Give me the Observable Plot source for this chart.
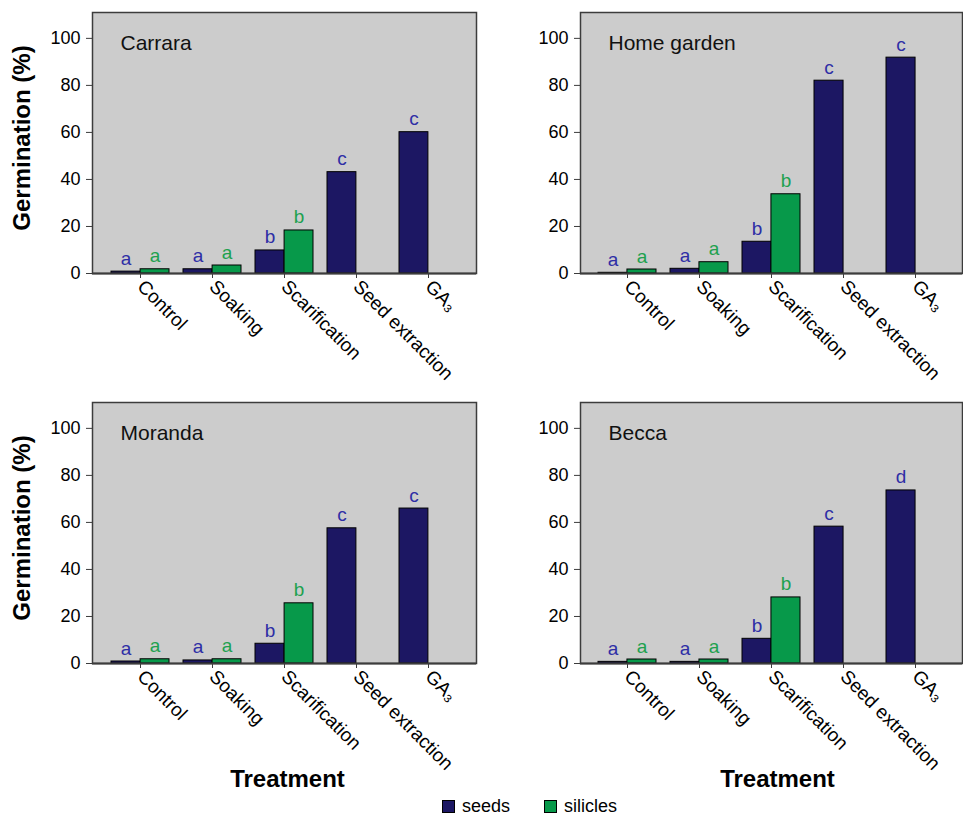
<!DOCTYPE html>
<html><head><meta charset="utf-8">
<script src="https://cdn.jsdelivr.net/npm/d3@7"></script>
<script src="https://cdn.jsdelivr.net/npm/@observablehq/plot@0.6"></script>
<style>
body{margin:0;background:#fff;font-family:"Liberation Sans",Arial,sans-serif;}
#wrap{position:relative;width:963px;height:815px;}
.panel{position:absolute;}
#legend{position:absolute;top:798px;left:442px;display:flex;align-items:center;font-size:18px;color:#000;line-height:16px;height:16px;}
#legend .sw{width:11px;height:11px;border:1px solid #000;display:inline-block;margin-right:7px;}
#legend .item{display:flex;align-items:center;margin-right:34px;}
</style></head><body><div id="wrap"><div id="legend"></div></div>
<script>
const treatments = ["Control", "Soaking", "Scarification", "Seed extraction", "GA₃"];
const seriesNames = ["seeds", "silicles"];
const seriesColors = ["#1c1763", "#07994a"];
const letterColors = ["#2e2ea6", "#1ea14f"];
const yTicks = [0, 20, 40, 60, 80, 100];

const panelNames = ["Carrara", "Home garden", "Moranda", "Becca"];

const carraraSeeds = [0.8, 1.8, 9.8, 43.1, 60.1];
const carraraSilicles = [1.8, 3.4, 18.3, null, null];
const carraraSeedLetters = ["a", "a", "b", "c", "c"];
const carraraSilicleLetters = ["a", "a", "b", null, null];

const homeSeeds = [0.3, 2.0, 13.5, 82.0, 91.8];
const homeSilicles = [1.7, 4.8, 33.7, null, null];
const homeSeedLetters = ["a", "a", "b", "c", "c"];
const homeSilicleLetters = ["a", "a", "b", null, null];

const morandaSeeds = [0.85, 1.3, 8.4, 57.5, 65.9];
const morandaSilicles = [1.8, 1.8, 25.6, null, null];
const morandaSeedLetters = ["a", "a", "b", "c", "c"];
const morandaSilicleLetters = ["a", "a", "b", null, null];

const beccaSeeds = [0.7, 0.7, 10.5, 58.2, 73.6];
const beccaSilicles = [1.7, 1.7, 28.1, null, null];
const beccaSeedLetters = ["a", "a", "b", "c", "d"];
const beccaSilicleLetters = ["a", "a", "b", null, null];

const panelData = [
  [carraraSeeds, carraraSilicles, carraraSeedLetters, carraraSilicleLetters],
  [homeSeeds, homeSilicles, homeSeedLetters, homeSilicleLetters],
  [morandaSeeds, morandaSilicles, morandaSeedLetters, morandaSilicleLetters],
  [beccaSeeds, beccaSilicles, beccaSeedLetters, beccaSilicleLetters]
];

function rows(values, letters, series) {
  return treatments.map((t, i) => ({treatment: t, series, value: values[i], letter: letters[i]}))
    .filter(d => d.value != null);
}

const layouts = [
  {left: 0, top: 0, width: 481, height: 390, ml: 92, mr: 5, ylab: true, xlab: false, xdx: 3},
  {left: 481, top: 0, width: 482, height: 390, ml: 99, mr: 1, ylab: false, xlab: false, xdx: 6},
  {left: 0, top: 390, width: 481, height: 405, ml: 92, mr: 5, ylab: true, xlab: true, xdx: 3},
  {left: 481, top: 390, width: 482, height: 405, ml: 99, mr: 1, ylab: false, xlab: true, xdx: 6}
];

const wrap = document.getElementById("wrap");
const font = '"Liberation Sans", Arial, sans-serif';

layouts.forEach((L, k) => {
  const [sv, lv, sl, ll] = panelData[k];
  const seedRows = rows(sv, sl, "seeds");
  const silRows = rows(lv, ll, "silicles");
  const mt = 12, mb = L.height - 273;
  const xOpts = {type: "band", domain: treatments, paddingInner: 0.2, paddingOuter: 0.24, range: [L.ml, L.width - L.mr]};
  const bw = Plot.scale({x: xOpts}).bandwidth;
  const marks = [
    Plot.frame({fill: "#cccccc", stroke: "#3c3c3c", strokeWidth: 1.5}),
    Plot.barY(seedRows, {x: "treatment", y: "value", fill: seriesColors[0], stroke: "#000", strokeWidth: 1, insetRight: bw / 2}),
    Plot.barY(silRows, {x: "treatment", y: "value", fill: seriesColors[1], stroke: "#000", strokeWidth: 1, insetLeft: bw / 2}),
    Plot.ruleY([0], {stroke: "#3c3c3c", strokeWidth: 2}),
    Plot.text(seedRows, {x: "treatment", y: "value", text: "letter", dx: -bw / 4, dy: -7, lineAnchor: "bottom", fill: letterColors[0], fontSize: 19}),
    Plot.text(silRows, {x: "treatment", y: "value", text: "letter", dx: bw / 4, dy: -7, lineAnchor: "bottom", fill: letterColors[1], fontSize: 19}),
    Plot.axisY({ticks: yTicks, tickSize: 6, tickPadding: 6, fontSize: 18, label: null, stroke: "#3c3c3c"}),
    Plot.axisX({tickSize: 5, tickPadding: 5, tickRotate: 45, fontSize: 19, label: null, stroke: "#3c3c3c"}),
    Plot.text([panelNames[k]], {frameAnchor: "top-left", dx: 28, dy: 23, lineAnchor: "top", textAnchor: "start", fontSize: 21, fill: "#111"})
  ];
  if (L.ylab) marks.push(Plot.text(["Germination (%)"], {frameAnchor: "left", dx: -80, dy: -5, rotate: -90, lineAnchor: "top", textAnchor: "middle", fontSize: 24, fontWeight: "bold", fill: "#000"}));
  if (L.xlab) marks.push(Plot.text(["Treatment"], {frameAnchor: "bottom", dx: L.xdx, dy: 106, lineAnchor: "top", textAnchor: "middle", fontSize: 24, fontWeight: "bold", fill: "#000"}));
  const svg = Plot.plot({
    width: L.width, height: L.height,
    marginLeft: L.ml, marginRight: L.mr, marginTop: mt, marginBottom: mb,
    style: {fontFamily: font, color: "#000", background: "transparent", overflow: "visible"},
    x: xOpts,
    y: {domain: [0, 111]},
    marks
  });
  svg.classList.add("panel");
  svg.style.left = L.left + "px";
  svg.style.top = L.top + "px";
  wrap.insertBefore(svg, document.getElementById("legend"));
});

const legend = document.getElementById("legend");
seriesNames.forEach((s, i) => {
  const it = document.createElement("div");
  it.className = "item";
  const sw = document.createElement("span");
  sw.className = "sw";
  sw.style.background = seriesColors[i];
  it.appendChild(sw);
  it.appendChild(document.createTextNode(s));
  legend.appendChild(it);
});
</script></body></html>
